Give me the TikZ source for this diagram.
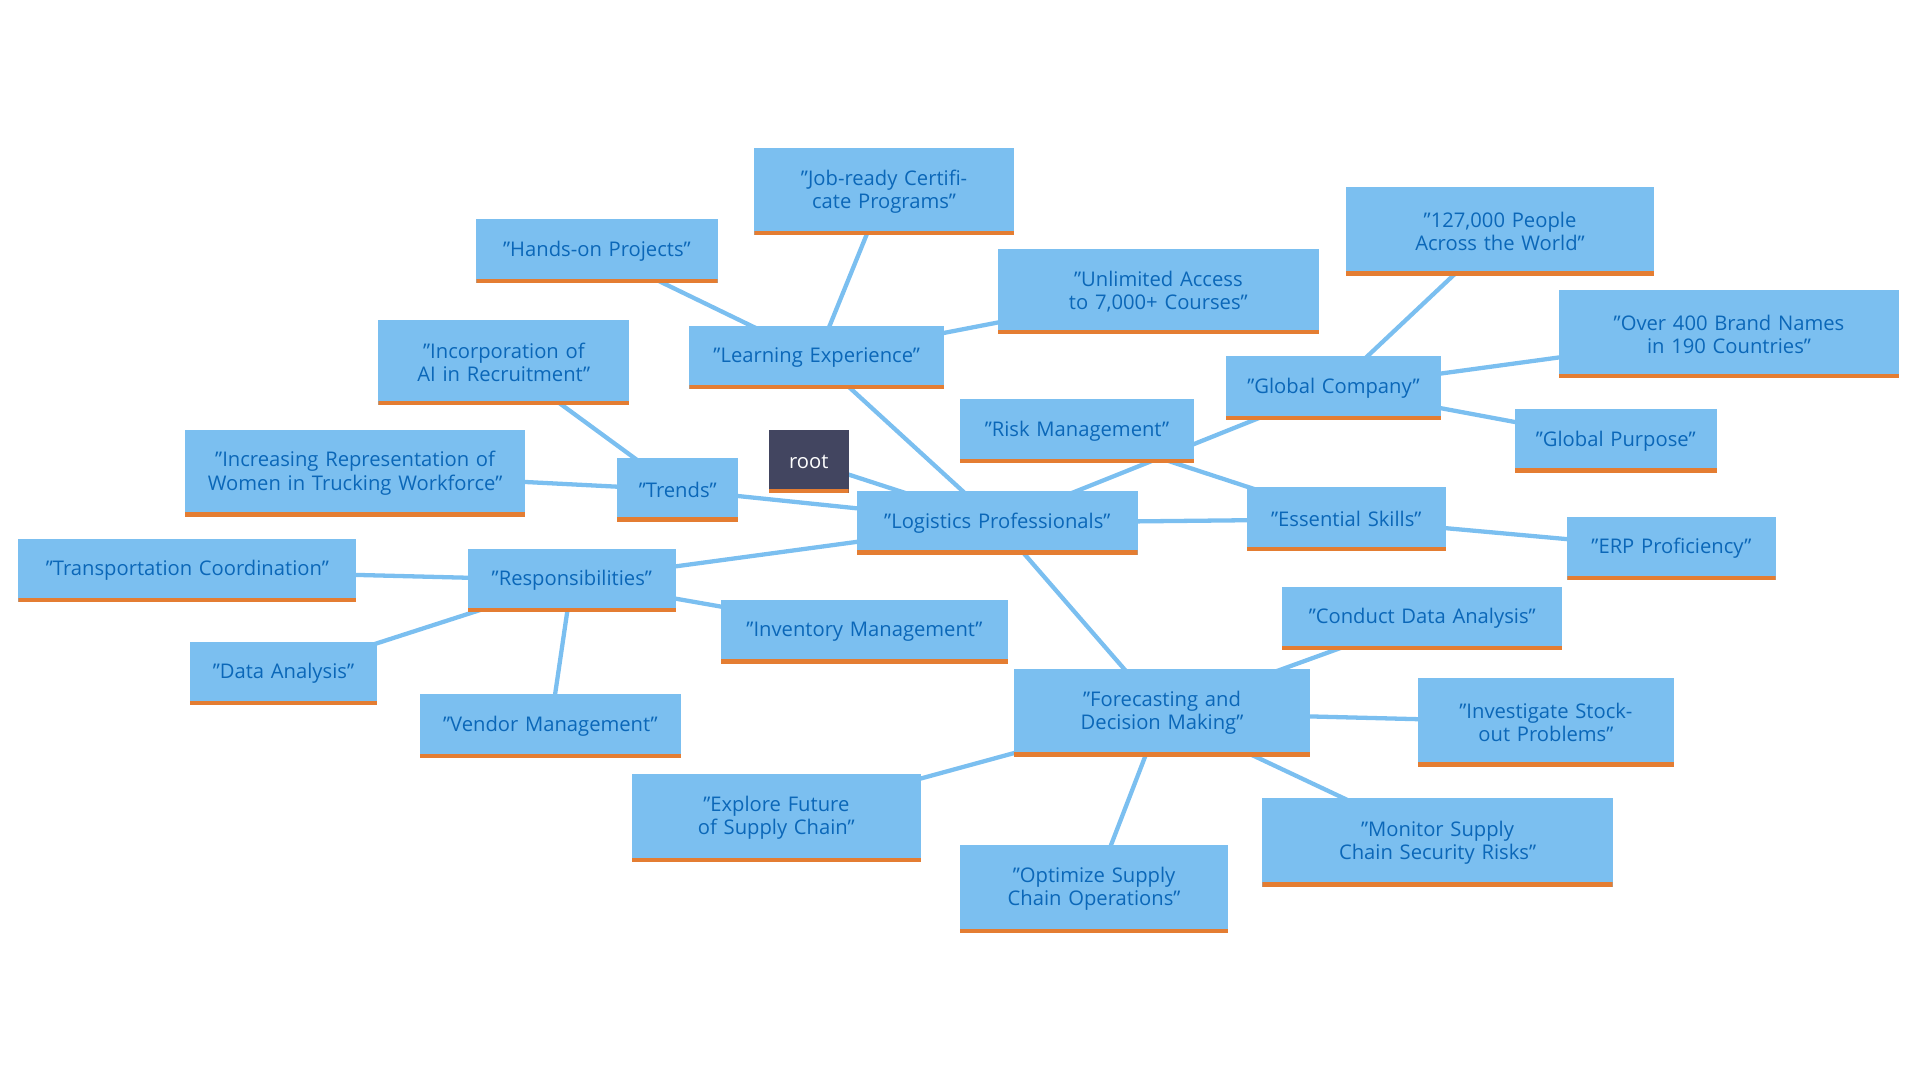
\documentclass[tikz,border=0pt]{standalone}
\usepackage{fontspec}
\setmainfont{Open Sans}
\usetikzlibrary{backgrounds}
\definecolor{boxc}{HTML}{7BBFF0}
\definecolor{txtc}{HTML}{0B67B8}
\definecolor{orc}{HTML}{E47D32}
\definecolor{rootc}{HTML}{424560}
\definecolor{edgec}{HTML}{7BBFF0}
\tikzset{
 mbox/.style={fill=boxc,text=txtc,inner sep=0pt,align=center,font=\fontsize{16.5}{19}\selectfont,
   path picture={\fill[orc] ([yshift=3.5pt]path picture bounding box.south west) rectangle (path picture bounding box.south east);}},
 conn/.style={draw=edgec,line width=3.5pt}
}
\newcommand\bx[7][boxc]{%
 \pgfmathsetmacro\cx{(#3+#5)/2}\pgfmathsetmacro\cy{(#4+#6)/2}%
 \pgfmathsetmacro\w{#5-#3}\pgfmathsetmacro\h{#6-#4}%
 \node[mbox,fill=#1,minimum width=\w pt,minimum height=\h pt,text width=\w pt-16pt] (#2) at (\cx,\cy) {#7};}
\begin{document}
\begin{tikzpicture}[x=1pt,y=-1pt]
\useasboundingbox (0,0) rectangle (1568,882);
\bx[rootc]{root}{628}{351}{693}{403}{\color{white}root}
\bx{log}{700}{401}{929}{453}{"Logistics Professionals"}
\bx{learn}{563}{266}{771}{318}{"Learning Experience"}
\bx{hands}{389}{179}{586}{231}{"Hands-on Projects"}
\bx{job}{616}{121}{828}{192}{"Job-ready Certificate Programs"}
\bx{unl}{815}{203}{1077}{273}{"Unlimited Access to 7,000+ Courses"}
\bx{trends}{504}{374}{603}{426}{"Trends"}
\bx{ai}{309}{261}{514}{331}{"Incorporation of AI in Recruitment"}
\bx{women}{151}{351}{429}{422}{"Increasing Representation of Women in Trucking Workforce"}
\bx{resp}{382}{448}{552}{500}{"Responsibilities"}
\bx{trans}{15}{440}{291}{492}{"Transportation Coordination"}
\bx{data}{155}{524}{308}{576}{"Data Analysis"}
\bx{vendor}{343}{567}{556}{619}{"Vendor Management"}
\bx{inv}{589}{490}{823}{542}{"Inventory Management"}
\bx{risk}{784}{326}{975}{378}{"Risk Management"}
\bx{glob}{1001}{291}{1177}{343}{"Global Company"}
\bx{people}{1099}{153}{1351}{225}{"127,000 People Across the World"}
\bx{brand}{1273}{237}{1551}{309}{"Over 400 Brand Names in 190 Countries"}
\bx{purp}{1237}{334}{1402}{386}{"Global Purpose"}
\bx{skills}{1018}{398}{1181}{450}{"Essential Skills"}
\bx{erp}{1280}{422}{1450}{474}{"ERP Proficiency"}
\bx{fore}{828}{546}{1070}{618}{"Forecasting and Decision Making"}
\bx{cond}{1047}{479}{1276}{531}{"Conduct Data Analysis"}
\bx{invest}{1158}{554}{1367}{626}{"Investigate Stockout Problems"}
\bx{mon}{1031}{652}{1317}{724}{"Monitor Supply Chain Security Risks"}
\bx{opt}{784}{690}{1003}{762}{"Optimize Supply Chain Operations"}
\bx{expl}{516}{632}{752}{704}{"Explore Future of Supply Chain"}
\begin{scope}[on background layer]
\foreach \a/\b in {root/log,log/learn,learn/hands,learn/job,learn/unl,log/trends,trends/ai,trends/women,
 log/resp,resp/trans,resp/data,resp/vendor,resp/inv,log/glob,glob/people,glob/brand,glob/purp,
 log/skills,skills/erp,skills/risk,log/fore,fore/cond,fore/invest,fore/mon,fore/opt,fore/expl}
 \draw[conn] (\a.center) -- (\b.center);
\end{scope}
\end{tikzpicture}
\end{document}
